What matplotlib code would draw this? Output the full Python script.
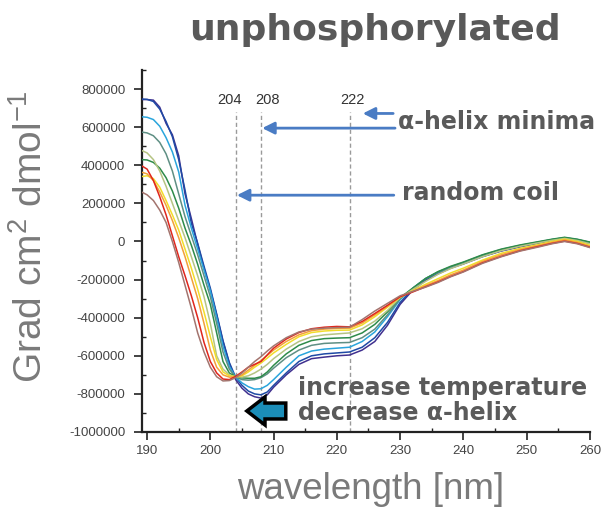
import matplotlib
matplotlib.use("Agg")
import matplotlib.pyplot as plt
from matplotlib.patches import Polygon
from matplotlib.ticker import MultipleLocator, FixedLocator

plt.rcParams['mathtext.fontset'] = 'custom'
plt.rcParams['mathtext.rm'] = 'Liberation Sans'
plt.rcParams['mathtext.default'] = 'regular'

# ---------------- data (ellipticity in units of 1000 Grad cm2 dmol-1) ----------------
wavelength = [189, 190, 191, 192, 193, 194, 195, 196, 197, 198, 199, 200, 201, 202, 203,
              204, 205, 206, 207, 208, 209, 210, 212, 214, 216, 218, 220, 222, 224, 226,
              228, 230, 232, 234, 236, 238, 240, 243, 246, 249, 252, 254, 256, 258, 260]

purple = [745, 745, 742, 705, 620, 560, 450, 250, 120, -15, -140, -255, -385, -525, -640,
          -725, -770, -800, -815, -822, -805, -765, -700, -645, -615, -607, -600, -596, -570, -525,
          -440, -330, -255, -205, -170, -140, -118, -80, -50, -28, -8, 5, 15, 5, -10]
navy = [748, 746, 735, 695, 630, 550, 430, 270, 95, -10, -130, -245, -380, -520, -635,
        -712, -755, -785, -800, -805, -790, -755, -690, -630, -600, -590, -585, -580, -555, -505,
        -425, -320, -250, -200, -165, -138, -115, -78, -48, -25, -5, 8, 18, 8, -8]
light_blue = [655, 652, 640, 605, 545, 470, 365, 190, 70, -40, -150, -260, -400, -550, -655,
              -712, -742, -762, -775, -773, -755, -725, -660, -600, -575, -565, -560, -555, -525, -475,
              -395, -305, -245, -195, -160, -135, -112, -75, -45, -22, -3, 10, 20, 10, -5]
teal = [575, 570, 555, 520, 460, 370, 250, 130, 30, -70, -180, -290, -430, -580, -670,
        -712, -725, -728, -725, -715, -695, -665, -610, -570, -545, -535, -532, -530, -505, -460,
        -385, -300, -245, -195, -160, -133, -110, -72, -42, -20, -2, 10, 20, 10, -5]
green = [430, 428, 415, 385, 335, 265, 175, 70, -20, -120, -230, -330, -480, -630, -690,
         -710, -716, -718, -718, -710, -685, -650, -590, -545, -520, -510, -507, -505, -480, -435,
         -370, -295, -245, -195, -158, -130, -108, -70, -40, -18, 0, 12, 22, 12, -3]
khaki = [480, 465, 430, 370, 290, 200, 110, 20, -80, -180, -290, -430, -600, -670, -700,
         -710, -712, -705, -690, -670, -645, -615, -565, -525, -500, -490, -485, -480, -458, -418,
         -362, -295, -252, -210, -172, -142, -118, -80, -48, -25, -6, 6, 16, 5, -12]
yellow = [340, 345, 330, 285, 215, 140, 60, -40, -140, -250, -370, -500, -620, -685, -705,
          -710, -705, -685, -660, -638, -612, -585, -540, -500, -478, -470, -466, -465, -438, -395,
          -345, -292, -258, -225, -195, -165, -140, -98, -62, -36, -15, 0, 12, 0, -20]
orange = [365, 355, 320, 260, 190, 110, 20, -80, -190, -300, -430, -570, -660, -700, -712,
          -712, -700, -675, -650, -625, -598, -570, -525, -490, -468, -460, -456, -455, -428, -385,
          -340, -290, -262, -232, -205, -175, -150, -105, -70, -42, -20, -5, 8, -5, -25]
red = [400, 380, 320, 235, 140, 30, -80, -180, -285, -400, -530, -630, -690, -722, -725,
       -708, -685, -660, -645, -630, -595, -560, -512, -478, -458, -450, -446, -448, -420, -378,
       -335, -290, -265, -238, -212, -183, -158, -112, -78, -48, -25, -10, 2, -10, -30]
brown = [262, 245, 215, 165, 100, 0, -110, -230, -350, -480, -580, -660, -710, -732, -730,
         -715, -690, -660, -630, -605, -575, -548, -505, -475, -460, -455, -452, -450, -410, -365,
         -325, -285, -262, -240, -215, -185, -160, -115, -80, -50, -28, -12, 0, -12, -32]

series = [purple, navy, light_blue, teal, green, khaki, yellow, orange, red, brown]
colors = ['#40308f', '#1f4aa5', '#2aa5dc', '#5f8f84', '#2e8b4a', '#b5c483',
          '#f2dd2a', '#f3a03a', '#e0261c', '#a3746e']

marker_lines = [204, 208, 222]
marker_label_x = [203.1, 209.0, 222.4]
x_ticks = [190, 200, 210, 220, 230, 240, 250, 260]
y_ticks = [-1000000, -800000, -600000, -400000, -200000, 0, 200000, 400000, 600000, 800000]

# ---------------- figure ----------------
fig = plt.figure(figsize=(6.02, 5.13), dpi=100)
ax = fig.add_axes([0.2359, 0.1579, 0.744, 0.7056])

for vals, c in zip(series, colors):
    ax.plot(wavelength, [v * 1000 for v in vals], color=c, lw=1.1, zorder=3)

for xv, xl in zip(marker_lines, marker_label_x):
    ax.plot([xv, xv], [-1000000, 680000], ls=(0, (3, 2)), color='#9a9a9a', lw=1.0, zorder=1)
    ax.text(xl, 745000, str(xv), ha='center', va='center', fontsize=10.5,
            color='#333333', family='Liberation Sans')

ax.set_xlim(189.2, 260)
ax.set_ylim(-1000000, 900000)
ax.xaxis.set_major_locator(FixedLocator(x_ticks))
ax.xaxis.set_minor_locator(MultipleLocator(5))
ax.yaxis.set_major_locator(FixedLocator(y_ticks))
ax.yaxis.set_minor_locator(MultipleLocator(100000))
ax.set_yticklabels([str(v) for v in y_ticks])
ax.set_xticklabels([str(v) for v in x_ticks])
for s in ['top', 'right']:
    ax.spines[s].set_visible(False)
for s in ['left', 'bottom']:
    ax.spines[s].set_linewidth(1.6)
    ax.spines[s].set_color('#222222')
ax.tick_params(axis='both', which='major', direction='out', length=6, width=1.2,
               labelsize=9.5, labelcolor='#444444', color='#222222')
ax.tick_params(axis='y', which='major', pad=6)
ax.tick_params(axis='both', which='minor', direction='in', length=3, width=1.0, color='#222222')
for lab in ax.get_xticklabels() + ax.get_yticklabels():
    lab.set_family('Liberation Sans')

# axis labels
fig.text(0.052, 0.538, r'Grad cm$^2$ dmol$^{-1}$', rotation=90, ha='center', va='center',
         fontsize=28, color='#7a7a7a', family='Liberation Sans')
fig.text(0.615, 0.045, 'wavelength [nm]', ha='center', va='center',
         fontsize=26.5, color='#7a7a7a', family='Liberation Sans')

# title
fig.text(0.623, 0.942, 'unphosphorylated', ha='center', va='center', fontsize=26,
         fontweight='bold', color='#595959', family='DejaVu Sans')

# blue annotation arrows
arrow_kw = dict(arrowstyle='-|>', color='#4a7cc4', lw=2, mutation_scale=18,
                shrinkA=0, shrinkB=0)
ax.annotate('', xy=(208.2, 595000), xytext=(229.2, 595000), arrowprops=arrow_kw)
ax.annotate('', xy=(204.2, 243000), xytext=(229.0, 243000), arrowprops=arrow_kw)
ax.annotate('', xy=(224.1, 672000), xytext=(228.9, 672000), arrowprops=arrow_kw)

txt_kw = dict(fontsize=17, fontweight='bold', color='#5a5a5a', family='DejaVu Sans',
              ha='left', va='center')
fig.text(0.661, 0.762, 'α-helix minima', **txt_kw)
fig.text(0.668, 0.624, 'random coil', **txt_kw)
fig.text(0.495, 0.244, 'increase temperature', **txt_kw)
fig.text(0.495, 0.195, 'decrease α-helix', **txt_kw)

# big teal arrow pointing left
verts = [(0.234, 0.058), (0.2746, 0.0967), (0.2746, 0.080), (0.321, 0.080),
         (0.321, 0.036), (0.2746, 0.036), (0.2746, 0.0193)]
ax.add_patch(Polygon(verts, closed=True, transform=ax.transAxes, facecolor='#1b8db8',
                     edgecolor='black', lw=2.5, zorder=5))

fig.savefig('out.png', dpi=100)
